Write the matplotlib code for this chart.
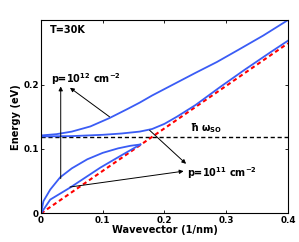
import numpy as np
import matplotlib
matplotlib.use("Agg")
import matplotlib.pyplot as plt

plt.rcParams['font.family'] = 'DejaVu Sans'
plt.rcParams['font.weight'] = 'bold'
plt.rcParams['mathtext.default'] = 'bf'

# upper branch, p = 1e12
k_up = [0, 0.025, 0.05, 0.08, 0.111, 0.14, 0.16, 0.18, 0.2, 0.226, 0.25, 0.285, 0.32, 0.36, 0.4]
e_up = [0.121, 0.123, 0.127, 0.135, 0.148, 0.162, 0.172, 0.183, 0.193, 0.206, 0.218, 0.235, 0.254, 0.276, 0.300]

# middle branch (phonon-like), ends along the dashed line
k_mid = [0, 0.05, 0.1, 0.13, 0.16, 0.18, 0.2, 0.22, 0.25, 0.29, 0.33, 0.37, 0.4]
e_mid = [0.1195, 0.120, 0.122, 0.124, 0.127, 0.131, 0.139, 0.150, 0.168, 0.196, 0.223, 0.249, 0.268]

# small loop at low density, p = 1e11
k_loop_up = [0, 0.004, 0.015, 0.031, 0.05, 0.075, 0.1, 0.125, 0.145, 0.161]
e_loop_up = [0, 0.019, 0.037, 0.056, 0.070, 0.084, 0.094, 0.101, 0.105, 0.107]
k_loop_lo = [0, 0.015, 0.047, 0.096, 0.13, 0.161]
e_loop_lo = [0, 0.0215, 0.040, 0.071, 0.090, 0.107]

# continuum edge (red dashed) and SO phonon energy
k_edge = [0, 0.4]
e_edge = [0, 0.264]
e_so = 0.118

blue = '#3a5cf5'

fig = plt.figure(figsize=(2.99, 2.42), dpi=100)
ax = fig.add_axes([0.137, 0.118, 0.826, 0.799])

ax.plot([0, 0.4], [e_so, e_so], '--', color='k', lw=1.0, dashes=(3, 2))
ax.plot(k_edge, e_edge, '--', color='red', lw=1.5, dashes=(2, 1.5))
ax.plot(k_up, e_up, color=blue, lw=1.3)
ax.plot(k_mid, e_mid, color=blue, lw=1.3)
ax.plot(k_loop_up, e_loop_up, color=blue, lw=1.3)
ax.plot(k_loop_lo, e_loop_lo, color=blue, lw=1.3)

arrow = dict(arrowstyle='-|>', color='k', lw=0.7, mutation_scale=6, shrinkA=0, shrinkB=0)
ax.annotate('', xy=(0.032, 0.197), xytext=(0.032, 0.054), arrowprops=arrow)
ax.annotate('', xy=(0.047, 0.195), xytext=(0.111, 0.150), arrowprops=arrow)
ax.annotate('', xy=(0.235, 0.077), xytext=(0.176, 0.129), arrowprops=arrow)
ax.annotate('', xy=(0.231, 0.0656), xytext=(0.047, 0.041), arrowprops=arrow)

ax.text(0.015, 0.284, 'T=30K', fontsize=7, fontweight='bold', va='center')
ax.text(0.017, 0.208, r'p=10$^{12}$ cm$^{-2}$', fontsize=7, fontweight='bold', va='center')
ax.text(0.236, 0.062, r'p=10$^{11}$ cm$^{-2}$', fontsize=7, fontweight='bold', va='center')
ax.text(0.241, 0.132, r'$\hbar$ $\omega_{SO}$', fontsize=7, fontweight='bold', va='center')

ax.set_xlim(0, 0.4)
ax.set_ylim(0, 0.3)
ax.set_xticks([0, 0.1, 0.2, 0.3, 0.4])
ax.set_xticklabels(['0', '0.1', '0.2', '0.3', '0.4'])
ax.set_yticks([0, 0.1, 0.2])
ax.set_yticklabels(['0', '0.1', '0.2'])
ax.tick_params(direction='in', top=True, right=True, length=2.5, width=0.6,
               labelsize=6.3, pad=1.5)
for s in ax.spines.values():
    s.set_linewidth(0.8)
ax.set_xlabel('Wavevector (1/nm)', fontsize=7.1, fontweight='bold', labelpad=0)
ax.set_ylabel('Energy (eV)', fontsize=7.1, fontweight='bold', labelpad=2)

fig.savefig('out.png', dpi=100)
